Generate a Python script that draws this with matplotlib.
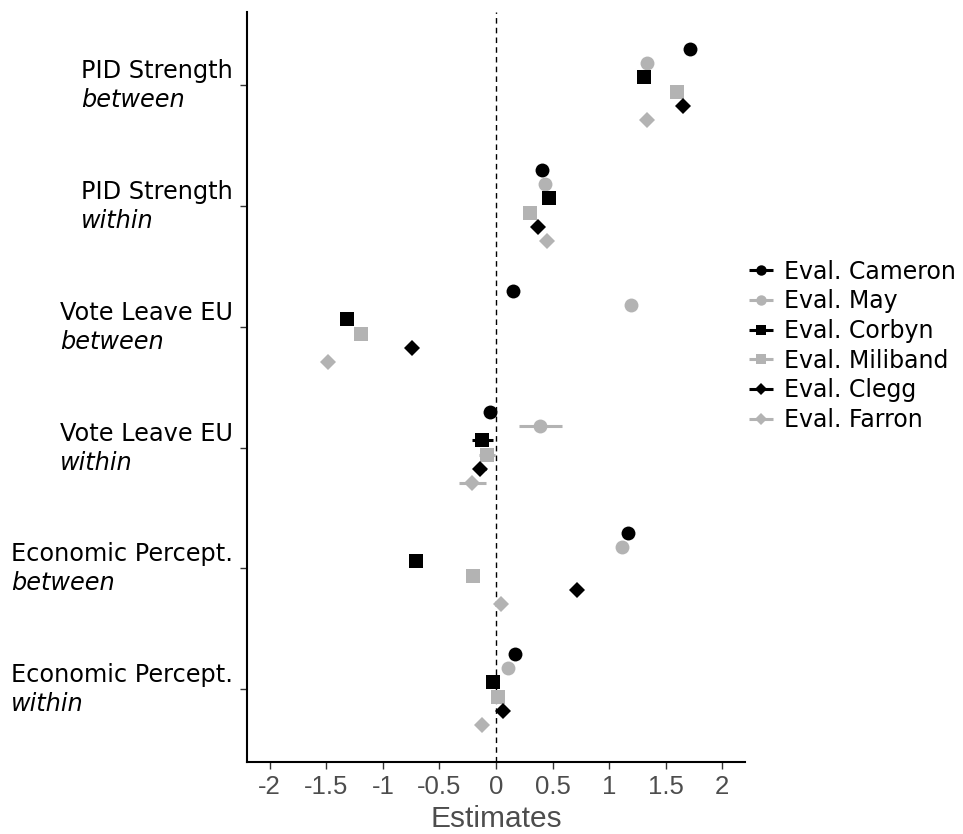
import numpy as np
import matplotlib
matplotlib.use("Agg")
import matplotlib.pyplot as plt
from matplotlib.transforms import offset_copy

# predictors, top to bottom
terms = ["PID Strength", "PID Strength", "Vote Leave EU", "Vote Leave EU",
         "Economic Percept.", "Economic Percept."]
level = ["between", "within", "between", "within", "between", "within"]

series = ["Eval. Cameron", "Eval. May", "Eval. Corbyn",
          "Eval. Miliband", "Eval. Clegg", "Eval. Farron"]

est = {
    "Eval. Cameron":  [1.71, 0.41, 0.15, -0.05, 1.17, 0.17],
    "Eval. May":      [1.33, 0.43, 1.19, 0.39, 1.11, 0.11],
    "Eval. Corbyn":   [1.31, 0.47, -1.32, -0.12, -0.71, -0.03],
    "Eval. Miliband": [1.60, 0.30, -1.19, -0.08, -0.20, 0.02],
    "Eval. Clegg":    [1.65, 0.37, -0.74, -0.14, 0.72, 0.06],
    "Eval. Farron":   [1.33, 0.45, -1.48, -0.21, 0.04, -0.12],
}
# half width of the confidence interval
ci = {
    "Eval. Cameron":  [0.03, 0.03, 0.03, 0.04, 0.03, 0.03],
    "Eval. May":      [0.03, 0.03, 0.04, 0.19, 0.03, 0.03],
    "Eval. Corbyn":   [0.03, 0.03, 0.04, 0.09, 0.03, 0.03],
    "Eval. Miliband": [0.03, 0.03, 0.04, 0.07, 0.03, 0.03],
    "Eval. Clegg":    [0.03, 0.03, 0.04, 0.05, 0.03, 0.03],
    "Eval. Farron":   [0.03, 0.03, 0.04, 0.12, 0.03, 0.03],
}

colors = ["black", "#b3b3b3", "black", "#b3b3b3", "black", "#b3b3b3"]
markers = ["o", "o", "s", "s", "D", "D"]
msizes = [10, 10, 9.5, 9.5, 8.5, 8.5]

fig = plt.figure(figsize=(9.63, 8.34), dpi=100)
ax = fig.add_axes([0.2565, 0.0863, 0.5171, 0.8993])

ypos = np.arange(1, len(terms) + 1)
dodge = 0.118
for i, s in enumerate(series):
    off = (i - 2.5) * dodge
    ax.errorbar(est[s], ypos + off, xerr=ci[s], fmt=markers[i], color=colors[i],
                ms=msizes[i], mew=0, elinewidth=2.2, capsize=0, label=s)

ax.axvline(0, color="black", ls=(0, (4, 3)), lw=1)

ax.set_xlim(-2.2, 2.2)
ax.set_ylim(6.6, 0.4)
ax.set_xticks([-2, -1.5, -1, -0.5, 0, 0.5, 1, 1.5, 2])
ax.set_xticklabels(["-2", "-1.5", "-1", "-0.5", "0", "0.5", "1", "1.5", "2"],
                   fontfamily="Liberation Sans", fontsize=18.5, color="#4d4d4d")
ax.set_xlabel("Estimates", fontfamily="Liberation Sans", fontsize=21.5,
              color="#4d4d4d", labelpad=5)
ax.set_yticks(ypos)
ax.set_yticklabels([])
ax.tick_params(axis="both", direction="out", length=5, width=1, color="#333333")
ax.tick_params(axis="x", pad=4)

for side in ["top", "right"]:
    ax.spines[side].set_visible(False)
for side in ["left", "bottom"]:
    ax.spines[side].set_linewidth(1.5)

# two-line y labels: first line ends near the axis, second (italic) starts under it
fig.canvas.draw()
r = fig.canvas.get_renderer()
for k in range(len(terms)):
    tr1 = offset_copy(ax.get_yaxis_transform(), fig=fig, x=-14, y=14, units="dots")
    t1 = ax.text(0, ypos[k], terms[k], transform=tr1, ha="right", va="center",
                 fontsize=17.3, fontfamily="DejaVu Sans")
    bb = t1.get_window_extent(r)
    x_ax = ax.transAxes.inverted().transform((bb.x0, 0))[0]
    tr2 = offset_copy(ax.get_yaxis_transform(), fig=fig, y=-15, units="dots")
    ax.text(x_ax, ypos[k], level[k], transform=tr2, ha="left", va="center",
            fontsize=17.3, fontfamily="DejaVu Sans", style="italic")

leg = ax.legend(loc="center left", bbox_to_anchor=(1.0, 0.555), frameon=False,
                fontsize=17, handlelength=0.75, handletextpad=0.6, labelspacing=0.24,
                markerscale=0.75, borderaxespad=0.0, borderpad=0.3)

fig.savefig("out.png", dpi=100)
